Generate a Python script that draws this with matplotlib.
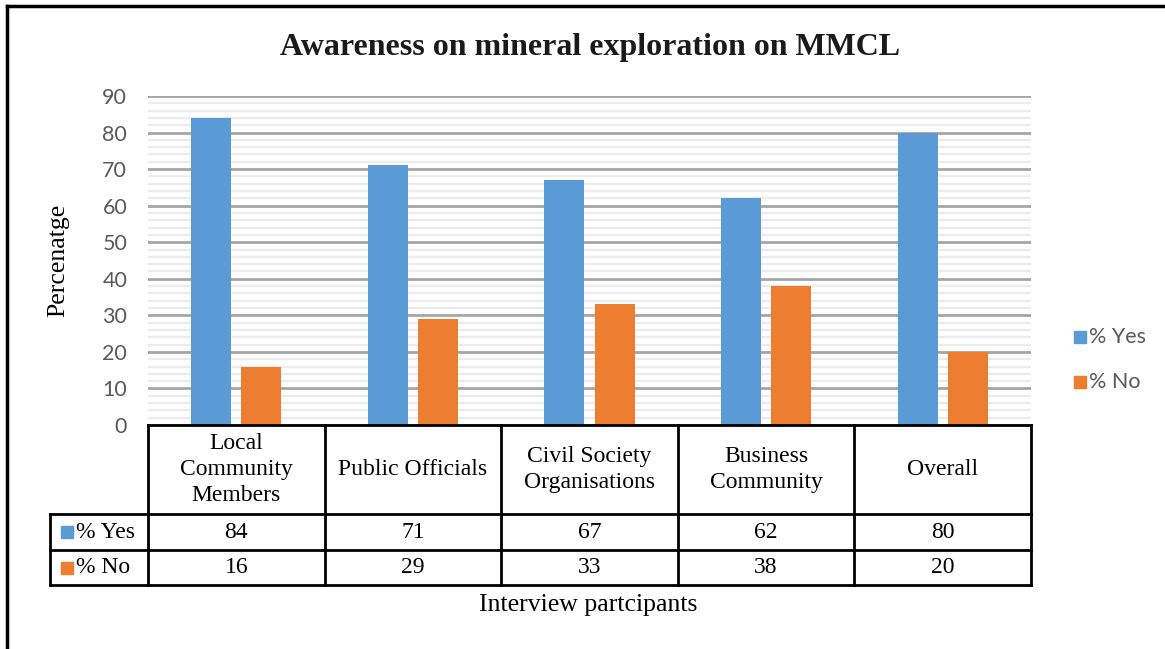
import numpy as np
import matplotlib
matplotlib.use('Agg')
import matplotlib.pyplot as plt
from matplotlib.patches import Rectangle

# data
categories = ['Local\nCommunity\nMembers', 'Public Officials', 'Civil Society\nOrganisations',
              'Business\nCommunity', 'Overall']
pct_yes = [84, 71, 67, 62, 80]
pct_no = [16, 29, 33, 38, 20]
series_names = ['% Yes', '% No']
colors = ['#5b9bd5', '#ed7d31']

W, H = 1165, 649
fig = plt.figure(figsize=(W / 100, H / 100), dpi=100)

# plot area in pixels
x0, x1 = 148, 1031
y_top, y_zero = 96, 425
ax = fig.add_axes([x0 / W, 1 - y_zero / H, (x1 - x0) / W, (y_zero - y_top) / H])

x = np.arange(len(categories))
bw = 0.226
off = 0.142
ax.bar(x - off, pct_yes, bw, color=colors[0], zorder=3)
ax.bar(x + off, pct_no, bw, color=colors[1], zorder=3)

ax.set_xlim(-0.5, len(categories) - 0.5)
ax.set_ylim(0, 90)
ax.set_yticks(np.arange(0, 91, 10))
ax.set_yticks(np.arange(0, 91, 2), minor=True)
ax.grid(axis='y', which='minor', color='#ececec', linewidth=1.6, zorder=0)
ax.grid(axis='y', which='major', color='#a6a6a6', linewidth=2.0, zorder=1)
ax.set_xticks([])
for s in ax.spines.values():
    s.set_visible(False)
ax.tick_params(axis='y', which='both', length=0, pad=15, labelsize=15.5, labelcolor='#595959')
for lab in ax.get_yticklabels():
    lab.set_fontfamily('Lato')

# overlay axes in pixel coordinates for frame, table and texts
ov = fig.add_axes([0, 0, 1, 1], zorder=5)
ov.set_xlim(0, W)
ov.set_ylim(H, 0)
ov.axis('off')
ov.patch.set_alpha(0)

# frame (left and top only visible)
ov.plot([7, 7], [H, 6], color='black', lw=2.5, solid_capstyle='projecting')
ov.plot([7, W], [6, 6], color='black', lw=2.5, solid_capstyle='projecting')

serif = 'Liberation Serif'
ov.text(590, 47, 'Awareness on mineral exploration on MMCL', ha='center', va='center',
        fontsize=23, fontweight='bold', family=serif, color='#1a1a1a')
ov.text(58, 260, 'Percenatge', rotation=90, ha='center', va='center',
        fontsize=18.5, family=serif, color='black')
ov.text(588, 605, 'Interview partcipants', ha='center', va='center',
        fontsize=18.5, family=serif, color='black')

# data table
col_w = (x1 - x0) / len(categories)
edges = [x0 + i * col_w for i in range(len(categories) + 1)]
t_left = 50
r_head, r_yes, r_no = 425, 514, 550
t_bot = 585
lw = 2.0
k = dict(color='black', lw=lw, solid_capstyle='projecting')
ov.plot([x0, x1], [r_head, r_head], **k)
ov.plot([t_left, x1], [r_yes, r_yes], **k)
ov.plot([t_left, x1], [r_no, r_no], **k)
ov.plot([t_left, x1], [t_bot, t_bot], **k)
ov.plot([t_left, t_left], [r_yes, t_bot], **k)
for e in edges:
    ov.plot([e, e], [r_head, t_bot], **k)

fs_t = 17
for i, c in enumerate(categories):
    cx = (edges[i] + edges[i + 1]) / 2
    ov.text(cx, (r_head + r_yes) / 2, c, ha='center', va='center', fontsize=fs_t,
            family=serif, linespacing=1.3)
    ov.text(cx, (r_yes + r_no) / 2, str(pct_yes[i]), ha='center', va='center',
            fontsize=fs_t, family=serif)
    ov.text(cx, (r_no + t_bot) / 2, str(pct_no[i]), ha='center', va='center',
            fontsize=fs_t, family=serif)

for j, (nm, col) in enumerate(zip(series_names, colors)):
    yc = [(r_yes + r_no) / 2, (r_no + t_bot) / 2][j]
    ov.add_patch(Rectangle((61, yc - 6), 12, 12, color=col))
    ov.text(76, yc, nm, ha='left', va='center', fontsize=fs_t, family=serif)

# legend
for j, (nm, col) in enumerate(zip(series_names, colors)):
    yc = [337, 382][j]
    ov.add_patch(Rectangle((1074, yc - 6), 12, 12, color=col))
    ov.text(1089, yc, nm, ha='left', va='center', fontsize=15.5, family='Lato',
            color='#595959')

fig.savefig('out.png', dpi=100)
